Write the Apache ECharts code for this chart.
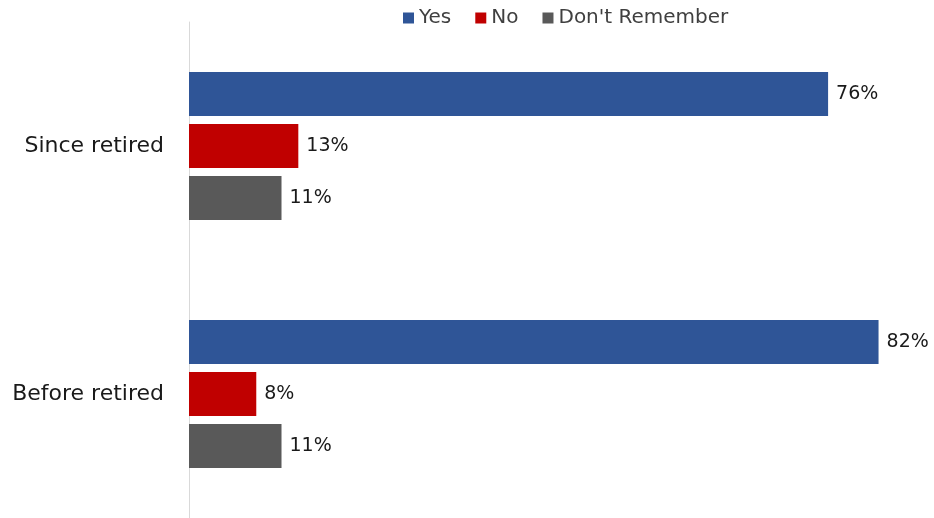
<!DOCTYPE html>
<html>
<head>
<meta charset="utf-8">
<script src="https://cdn.jsdelivr.net/npm/echarts@6/dist/echarts.min.js"></script>
<style>
  html, body { margin: 0; padding: 0; background: #ffffff; }
  #chart { width: 934px; height: 518px; }
</style>
</head>
<body>
<div id="chart"></div>
<script>
// Survey responses by retirement stage (percent)
const categories = ['Since retired', 'Before retired'];
const yesValues = [76, 82];
const noValues = [13, 8];
const dontRememberValues = [11, 11];
const seriesNames = ['Yes', 'No', "Don't Remember"];

const FONT = '"DejaVu Sans", "Liberation Sans", sans-serif';
const colors = ['#2F5597', '#C00000', '#595959'];

function barSeries(name, data, color) {
  return {
    name: name,
    type: 'bar',
    data: data,
    barWidth: 44,
    barGap: '18%',
    itemStyle: { color: color },
    label: {
      show: true,
      position: 'right',
      distance: 8,
      formatter: '{c}%',
      color: '#1a1a1a',
      fontFamily: FONT,
      fontSize: 19
    }
  };
}

const chart = echarts.init(document.getElementById('chart'), null, { renderer: 'canvas' });
chart.setOption({
  animation: false,
  backgroundColor: '#ffffff',
  legend: {
    data: seriesNames,
    left: 398,
    top: 3,
    itemWidth: 11,
    itemHeight: 11,
    itemGap: 24,
    icon: 'rect',
    textStyle: { fontFamily: FONT, fontSize: 20, color: '#404040' }
  },
  grid: { left: 189, right: 5, top: 22, bottom: -2, containLabel: false },
  xAxis: {
    type: 'value',
    min: 0,
    max: 88,
    show: false
  },
  yAxis: {
    type: 'category',
    data: categories,
    inverse: true,
    axisLine: { show: true, lineStyle: { color: '#d9d9d9', width: 1 } },
    axisTick: { show: false },
    axisLabel: { margin: 25, fontFamily: FONT, fontSize: 22, color: '#1a1a1a' },
    splitLine: { show: false }
  },
  series: [
    barSeries(seriesNames[0], yesValues, colors[0]),
    barSeries(seriesNames[1], noValues, colors[1]),
    barSeries(seriesNames[2], dontRememberValues, colors[2])
  ]
});
</script>
</body>
</html>
